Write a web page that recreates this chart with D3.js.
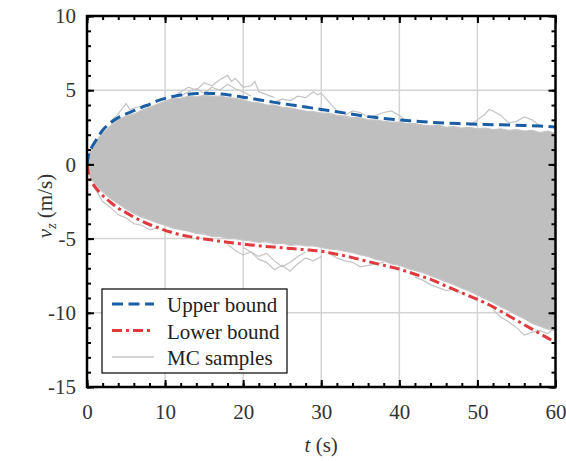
<!DOCTYPE html>
<html>
<head>
<meta charset="utf-8">
<script src="https://cdn.jsdelivr.net/npm/d3@7"></script>
<style>
  body { margin: 0; background: #fff; }
  svg text { font-family: "Times New Roman", "Liberation Serif", "DejaVu Serif", serif; }
</style>
</head>
<body>
<svg id="chart" width="566" height="461"></svg>
<script>
// ---- data ----
var boundT = [0, 0.25, 0.5, 1, 2, 3, 4, 5, 6, 7, 8, 9, 10, 11, 12, 13, 14, 15, 16, 17, 18, 19, 20, 21, 22, 23, 24, 25, 26, 27, 28, 29, 30, 32, 34, 36, 38, 40, 42, 44, 46, 48, 50, 52, 54, 56, 58, 60];
var upperBound = [0, 0.75, 1.05, 1.5, 2.3, 2.8, 3.15, 3.4, 3.62, 3.85, 4.05, 4.28, 4.45, 4.58, 4.67, 4.73, 4.78, 4.79, 4.78, 4.75, 4.7, 4.62, 4.53, 4.45, 4.36, 4.27, 4.18, 4.1, 4.02, 3.95, 3.87, 3.78, 3.7, 3.55, 3.38, 3.22, 3.1, 3.0, 2.92, 2.84, 2.78, 2.74, 2.71, 2.68, 2.65, 2.62, 2.58, 2.52];
var lowerBound = [0, -0.8, -1.1, -1.5, -2.1, -2.55, -2.95, -3.25, -3.55, -3.82, -4.05, -4.25, -4.45, -4.6, -4.75, -4.85, -4.95, -5.03, -5.1, -5.18, -5.25, -5.31, -5.37, -5.43, -5.48, -5.53, -5.57, -5.62, -5.66, -5.7, -5.75, -5.8, -5.85, -6.05, -6.28, -6.55, -6.8, -7.06, -7.4, -7.75, -8.2, -8.65, -9.1, -9.6, -10.2, -10.8, -11.4, -12.0];

// envelope of the bulk of the MC samples
var envT = [0, 0.25, 0.5, 1, 1.5, 2, 3, 4, 5, 6, 7, 8, 9, 10, 11, 12, 13, 14, 15, 16, 17, 18, 19, 20, 21, 22, 23, 24, 25, 26, 27, 28, 29, 30, 31, 32, 33, 34, 35, 36, 37, 38, 39, 40, 41, 42, 43, 44, 45, 46, 47, 48, 49, 50, 51, 52, 53, 54, 55, 56, 57, 58, 59, 60];
var envTop = [0, 0.65, 0.95, 1.35, 1.8, 2.1, 2.6, 3.0, 3.25, 3.4, 3.65, 3.85, 4.05, 4.25, 4.45, 4.45, 4.6, 4.55, 4.65, 4.6, 4.6, 4.5, 4.45, 4.35, 4.2, 4.15, 4.0, 4.0, 3.85, 3.8, 3.7, 3.6, 3.55, 3.45, 3.45, 3.3, 3.25, 3.15, 3.15, 3.0, 3.0, 2.9, 2.85, 2.85, 2.75, 2.75, 2.65, 2.6, 2.65, 2.5, 2.55, 2.45, 2.5, 2.4, 2.45, 2.35, 2.4, 2.3, 2.35, 2.25, 2.3, 2.15, 2.25, 2.1];
var envBottom = [0, -0.6, -0.95, -1.3, -1.6, -1.85, -2.3, -2.65, -3.0, -3.3, -3.55, -3.75, -3.95, -4.1, -4.3, -4.4, -4.5, -4.65, -4.7, -4.85, -4.85, -5.0, -5.0, -5.1, -5.15, -5.25, -5.2, -5.35, -5.3, -5.45, -5.4, -5.5, -5.5, -5.6, -5.7, -5.75, -5.85, -5.95, -6.1, -6.2, -6.4, -6.5, -6.7, -6.8, -7.0, -7.15, -7.3, -7.5, -7.7, -7.9, -8.1, -8.35, -8.55, -8.8, -9.05, -9.3, -9.6, -9.85, -10.15, -10.4, -10.7, -10.9, -11.1, -11.2];

// single samples that stick out of the bulk
var outlierT = [
  [3, 4, 5, 5.5, 6, 7, 8],
  [11, 12, 13, 14, 15, 16, 17, 18, 18.5, 19, 20, 21, 21.5, 22, 23, 24],
  [12, 13, 14, 15, 16, 17, 18, 19, 20, 21],
  [24, 25, 26, 27, 28, 29, 29.5, 30, 31, 32],
  [33, 34, 35, 36, 37, 38, 39, 40, 41],
  [49, 50, 51, 51.5, 52, 53, 54, 55, 56, 57, 58],
  [1, 2, 3, 4, 5, 6, 7, 8, 9],
  [18, 19, 20, 21, 22, 23, 24, 25, 26, 27, 28, 29, 30],
  [20, 21, 22, 23, 24, 25, 26, 27, 28],
  [31, 32, 33, 34, 35, 36, 37, 38],
  [42, 43, 44, 45, 46, 47, 48],
  [52, 53, 54, 55, 56, 57, 58, 59, 60]
];
var outlierV = [
  [2.9, 3.4, 4.1, 3.7, 3.8, 3.9, 3.9],
  [4.5, 4.9, 5.2, 5.0, 5.5, 5.3, 5.7, 6.0, 5.6, 5.8, 5.2, 5.3, 5.6, 4.9, 4.7, 4.5],
  [4.6, 4.9, 5.1, 4.8, 5.2, 5.0, 5.4, 5.1, 4.9, 4.6],
  [4.2, 4.4, 4.3, 4.6, 4.5, 4.9, 4.7, 4.8, 4.2, 3.6],
  [3.3, 3.6, 3.5, 3.2, 3.3, 3.5, 3.6, 3.3, 2.9],
  [2.6, 3.0, 3.4, 3.7, 3.6, 3.3, 2.8, 2.9, 3.2, 3.0, 2.6],
  [-1.6, -2.5, -2.9, -3.4, -3.6, -4.0, -4.1, -4.4, -4.3],
  [-5.4, -5.8, -6.1, -5.9, -6.4, -6.6, -7.1, -6.8, -7.2, -6.7, -6.3, -6.5, -6.2],
  [-5.6, -5.9, -6.2, -6.0, -6.5, -6.9, -6.6, -6.2, -5.9],
  [-6.0, -6.3, -6.5, -6.6, -6.9, -6.8, -6.7, -6.6],
  [-7.6, -7.8, -8.1, -8.3, -8.5, -8.4, -8.7],
  [-9.8, -10.3, -10.6, -11.0, -11.5, -11.3, -11.2, -11.4, -11.0]
];

var xTicks = [0, 10, 20, 30, 40, 50, 60];
var yTicks = [-15, -10, -5, 0, 5, 10];
var legendLabels = ["Upper bound", "Lower bound", "MC samples"];

// ---- layout ----
var serif = "'Times New Roman', 'Liberation Serif', 'DejaVu Serif', serif";
var svg = d3.select("#chart").attr("font-family", serif),
    pLeft = 87, pRight = 555.5, pTop = 16, pBottom = 387;

var x = d3.scaleLinear().domain([0, 60]).range([pLeft, pRight]);
var y = d3.scaleLinear().domain([-15, 10]).range([pBottom, pTop]);

var blue = "#1b5ea3", red = "#e0393e", grey = "#bfbfbf";

svg.append("clipPath").attr("id", "clip")
  .append("rect").attr("x", pLeft).attr("y", pTop)
  .attr("width", pRight - pLeft).attr("height", pBottom - pTop);

// grid
var grid = svg.append("g").attr("stroke", "#d4d4d4").attr("stroke-width", 1.5);
xTicks.slice(1, -1).forEach(function (t) {
  grid.append("line").attr("x1", x(t)).attr("x2", x(t)).attr("y1", pTop).attr("y2", pBottom);
});
yTicks.slice(1, -1).forEach(function (v) {
  grid.append("line").attr("x1", pLeft).attr("x2", pRight).attr("y1", y(v)).attr("y2", y(v));
});

var plot = svg.append("g").attr("clip-path", "url(#clip)");

// bulk of the MC samples as a filled band
var band = d3.area()
  .x(function (d, i) { return x(envT[i]); })
  .y0(function (d, i) { return y(envBottom[i]); })
  .y1(function (d, i) { return y(envTop[i]); });
plot.append("path").datum(envT).attr("d", band)
  .attr("fill", grey).attr("stroke", "#c6c6c6").attr("stroke-width", 1.2);

var sampleLine = d3.line()
  .x(function (d) { return x(d[0]); })
  .y(function (d) { return y(d[1]); });
outlierT.forEach(function (ts, k) {
  var pts = ts.map(function (t, i) { return [t, outlierV[k][i]]; });
  plot.append("path").datum(pts).attr("d", sampleLine)
    .attr("fill", "none").attr("stroke", "#c4c4c4").attr("stroke-width", 1.2);
});

// bounds
var boundLine = d3.line().curve(d3.curveMonotoneX)
  .x(function (d) { return x(d[0]); })
  .y(function (d) { return y(d[1]); });
var up = boundT.map(function (t, i) { return [t, upperBound[i]]; });
var lo = boundT.map(function (t, i) { return [t, lowerBound[i]]; });
plot.append("path").datum(up).attr("d", boundLine)
  .attr("fill", "none").attr("stroke", blue).attr("stroke-width", 3)
  .attr("stroke-dasharray", "11,5.5");
plot.append("path").datum(lo).attr("d", boundLine)
  .attr("fill", "none").attr("stroke", red).attr("stroke-width", 3)
  .attr("stroke-dasharray", "10,4,3,4");

// axes, ticks pointing inward on all four sides
var minorX = d3.range(0, 61, 2), minorY = d3.range(-15, 11, 1);
var plain = function (d) { return String(d); };  // keep the short hyphen minus

function styleAxis(g) {
  g.attr("font-family", serif).attr("font-size", 21);
  g.select(".domain").remove();
  g.selectAll("line").attr("stroke", "#000").attr("stroke-width", 2);
  g.selectAll("text").attr("fill", "#333");
}

svg.append("g").attr("transform", "translate(0," + pBottom + ")")
  .call(d3.axisBottom(x).tickValues(minorX).tickSize(-4).tickFormat(""))
  .call(styleAxis);
svg.append("g").attr("transform", "translate(0," + pBottom + ")")
  .call(d3.axisBottom(x).tickValues(xTicks).tickSize(-7).tickPadding(17).tickFormat(plain))
  .call(styleAxis);
svg.append("g").attr("transform", "translate(0," + pTop + ")")
  .call(d3.axisTop(x).tickValues(minorX).tickSize(-4).tickFormat(""))
  .call(styleAxis);
svg.append("g").attr("transform", "translate(0," + pTop + ")")
  .call(d3.axisTop(x).tickValues(xTicks).tickSize(-7).tickFormat(""))
  .call(styleAxis);
svg.append("g").attr("transform", "translate(" + pLeft + ",0)")
  .call(d3.axisLeft(y).tickValues(minorY).tickSize(-4).tickFormat(""))
  .call(styleAxis);
svg.append("g").attr("transform", "translate(" + pLeft + ",0)")
  .call(d3.axisLeft(y).tickValues(yTicks).tickSize(-7).tickPadding(11).tickFormat(plain))
  .call(styleAxis);
svg.append("g").attr("transform", "translate(" + pRight + ",0)")
  .call(d3.axisRight(y).tickValues(minorY).tickSize(-4).tickFormat(""))
  .call(styleAxis);
svg.append("g").attr("transform", "translate(" + pRight + ",0)")
  .call(d3.axisRight(y).tickValues(yTicks).tickSize(-7).tickFormat(""))
  .call(styleAxis);

svg.append("rect").attr("x", pLeft).attr("y", pTop)
  .attr("width", pRight - pLeft).attr("height", pBottom - pTop)
  .attr("fill", "none").attr("stroke", "#000").attr("stroke-width", 2.5);

// axis titles
var xt = svg.append("text").attr("x", (pLeft + pRight) / 2).attr("y", 452)
  .attr("text-anchor", "middle").attr("fill", "#333").attr("font-size", 21);
xt.append("tspan").attr("font-style", "italic").text("t");
xt.append("tspan").text(" (s)");

var yt = svg.append("text").attr("transform", "translate(52,206) rotate(-90)")
  .attr("text-anchor", "middle").attr("fill", "#333").attr("font-size", 21);
yt.append("tspan").attr("font-style", "italic").text("v");
yt.append("tspan").attr("font-style", "italic").attr("font-size", 14).attr("dy", 4).text("z");
yt.append("tspan").attr("dy", -4).text(" (m/s)");

// legend
var lg = svg.append("g");
lg.append("rect").attr("x", 102).attr("y", 289).attr("width", 185).attr("height", 84)
  .attr("fill", "#fff").attr("stroke", "#000").attr("stroke-width", 1.2);
var legendStyle = [
  { c: blue, w: 3, dash: "11,5.5" },
  { c: red, w: 3, dash: "10,4,3,4" },
  { c: "#c4c4c4", w: 1.5, dash: null }
];
legendLabels.forEach(function (name, i) {
  var cy = 304 + i * 26.5;
  lg.append("line").attr("x1", 112).attr("x2", 154).attr("y1", cy).attr("y2", cy)
    .attr("stroke", legendStyle[i].c).attr("stroke-width", legendStyle[i].w)
    .attr("stroke-dasharray", legendStyle[i].dash);
  lg.append("text").attr("x", 167).attr("y", cy + 8).attr("fill", "#222")
    .attr("font-size", 21).text(name);
});
</script>
</body>
</html>
